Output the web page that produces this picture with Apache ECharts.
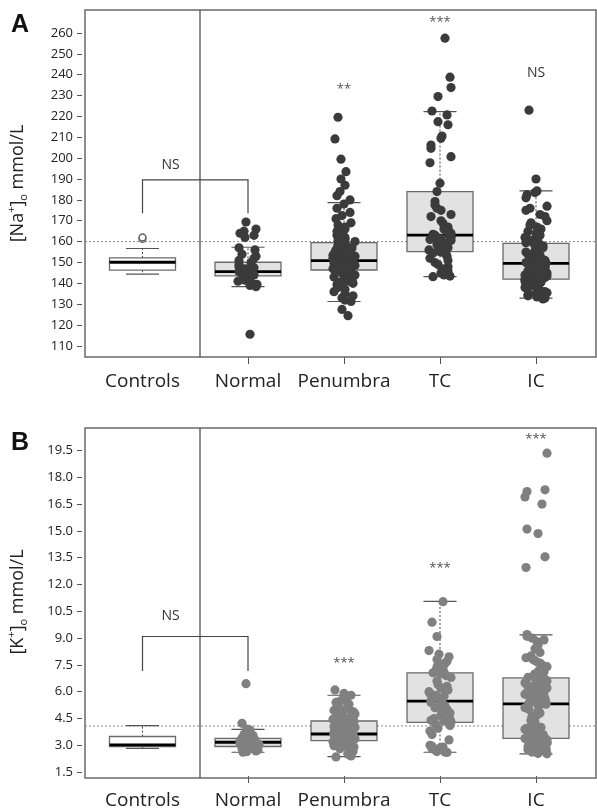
<!DOCTYPE html>
<html><head><meta charset="utf-8">
<script src="https://cdn.jsdelivr.net/npm/echarts@6/dist/echarts.min.js"></script>
<style>html,body{margin:0;padding:0;background:#fff}#c{width:597px;height:810px}</style>
</head><body><div id="c"></div>
<script>
// ---------- DATA ----------
const leftCategories = ['Controls'];
const rightCategories = ['Normal', 'Penumbra', 'TC', 'IC'];

const naTicks = [110,120,130,140,150,160,170,180,190,200,210,220,230,240,250,260];
const kTicks = [1.5,3.0,4.5,6.0,7.5,9.0,10.5,12.0,13.5,15.0,16.5,18.0,19.5];

// box stats: [low whisker, Q1, median, Q3, high whisker]
const naControlsBox = [144.4, 146.3, 150.1, 152.2, 156.7];
const naControlsOutliers = [161.3, 162.0];
const naBoxes = [
  [138.4, 143.6, 145.6, 150.1, 157.3],
  [131.3, 146.4, 150.9, 159.5, 178.7],
  [143.2, 155.2, 163.1, 184.0, 222.3],
  [132.9, 142.0, 149.6, 159.2, 184.3]
];
const kControlsBox = [2.83, 2.93, 3.02, 3.49, 4.10];
const kBoxes = [
  [2.61, 2.93, 3.17, 3.39, 3.89],
  [2.37, 3.26, 3.63, 4.36, 5.80],
  [2.61, 4.28, 5.47, 7.05, 11.06],
  [2.52, 3.39, 5.32, 6.77, 9.18]
];

const naNormal = [169.4,166,165,164,163,162,157,156,154,153,152,151,150,149,148,147.5,147,146.5,146,145.5,145,144.5,144,144,143.5,143,142.5,142,141.5,141,140.5,140,139.5,139,138.4,115.6];
const naPenumbra = [219.6,209.2,199.5,193.5,190,187,184,182,180,178,176,174,172.5,171,169,168,167,166,165,164,163,162,161,160.5,160,
  159.5,159,158.5,158,157.5,157,156.5,156,155.5,155,154.5,154,153.5,153,152.5,152.5,152,152,151.5,151.5,151.5,151,151,151,151,
  150.5,150.5,150.5,150,150,150,149.5,149.5,149,149,148.5,148.5,148,148,148,147.5,147.5,147,147,147,146.8,146.6,146.5,146.5,146.4,
  146,145.5,145,144.5,144,143.5,143,142.5,142,141.5,141,140.5,140,139.5,139,138,137,136,135,134,133,132,131.3,127.5,124.5];
const naTC = [257.5,238.8,233.8,229.5,222.6,220.7,217.5,216,210.6,209.5,206.3,204.7,200.7,197.8,188,184,179.2,177.6,176,175,173,172,170,168.8,167,166,165.5,165,164.5,164,163.5,
  163,163,162.5,162,161.5,161,160.5,160,159.5,159,158.5,158,157,156,155.5,155,154.5,154,153,152,151,150,149,148,147,146,145,144,143.5,143.2];
const naIC = [223,190,184.3,183.5,182.5,181,177,176,175,173,172,170,169,168,167,166,165,164,163,162,161.5,161,160.5,160,159.5,
  159,158.5,158,157.5,157,156.5,156,155.5,155,154.5,154,153.5,153,152.5,152,152,151.5,151,151,150.5,150.5,150,150,149.8,149.7,
  149.5,149,148.5,148,147.5,147,146.5,146,146,145.5,145,145,144.5,144.5,144,144,143.5,143.5,143,143,142.8,142.5,142.5,142.2,142,
  141.5,141,141,140.5,140,140,139.5,139,139,138.5,138,138,137.5,137,136.5,136,136,135.5,135,135,134.5,134,133.5,133,132.5];

const kNormal = [6.45,4.23,3.9,3.85,3.75,3.7,3.6,3.55,3.5,3.45,3.4,3.38,3.35,3.3,3.25,3.2,3.18,3.15,3.1,3.08,3.05,3.0,2.98,2.95,2.93,2.9,2.88,2.85,2.82,2.8,2.75,2.7,2.68,2.65,2.61];
const kPenumbra = [6.1,5.9,5.8,5.6,5.5,5.4,5.3,5.2,5.1,5.0,4.95,4.9,4.85,4.8,4.75,4.7,4.65,4.6,4.55,4.5,4.48,4.45,4.42,4.4,4.37,
  4.35,4.3,4.25,4.2,4.15,4.1,4.05,4.0,3.98,3.95,3.92,3.9,3.87,3.85,3.82,3.8,3.78,3.75,3.73,3.71,3.7,3.68,3.66,3.65,3.64,
  3.62,3.61,3.6,3.58,3.57,3.55,3.54,3.52,3.5,3.49,3.48,3.46,3.45,3.43,3.42,3.4,3.39,3.37,3.35,3.34,3.32,3.31,3.3,3.28,3.27,
  3.25,3.22,3.2,3.17,3.15,3.12,3.1,3.07,3.05,3.02,3.0,2.97,2.95,2.92,2.9,2.87,2.85,2.8,2.75,2.7,2.65,2.6,2.5,2.4,2.35];
const kTC = [11.04,9.89,9.09,8.3,8.1,7.95,7.8,7.7,7.6,7.5,7.4,7.3,7.2,7.15,7.1,7.06,
  7.0,6.9,6.8,6.6,6.4,6.3,6.2,6.1,6.0,5.9,5.8,5.75,5.7,5.6,5.55,5.5,
  5.45,5.4,5.3,5.25,5.2,5.1,5.0,4.9,4.8,4.7,4.6,4.5,4.45,4.4,4.35,4.3,
  4.2,4.1,3.95,3.8,3.6,3.3,3.0,2.95,2.9,2.85,2.8,2.75,2.7,2.65,2.62,2.6];
const kIC = [19.35,17.3,17.2,16.9,16.5,15.1,14.85,13.55,12.95,9.2,9.1,9.0,8.9,8.8,8.6,8.4,8.2,8.0,7.9,7.8,7.7,7.6,7.5,7.4,7.3,7.2,7.1,7.0,6.9,6.8,
  6.75,6.7,6.65,6.6,6.55,6.5,6.45,6.4,6.35,6.3,6.25,6.2,6.15,6.1,6.05,6.0,5.95,5.9,5.85,5.8,5.75,5.7,5.65,5.6,5.55,5.5,5.45,5.4,5.37,5.33,
  5.3,5.2,5.1,5.0,4.9,4.8,4.7,4.6,4.5,4.4,4.3,4.2,4.1,4.05,4.0,3.95,3.9,3.85,3.8,3.75,3.7,3.65,3.6,3.55,3.5,3.47,3.45,3.43,3.41,3.4,
  3.38,3.35,3.3,3.25,3.2,3.18,3.15,3.12,3.1,3.05,3.0,2.97,2.95,2.92,2.9,2.87,2.85,2.82,2.8,2.77,2.75,2.72,2.7,2.67,2.65,2.62,2.6,2.57,2.55,2.52];

// significance labels above right-panel groups
const naSigText = ['', '**', '***', 'NS'];
const naSigValue = [null, 233, 265, 241];
const kSigText = ['', '***', '***', '***'];
const kSigValue = [null, 7.6, 12.9, 20.1];
// Controls vs Normal bracket: [leg bottom, bar level, label level]
const naBracket = [173.6, 189.6, 196.6];
const kBracket = [7.16, 9.09, 10.25];
const naRefLine = 160;
const kRefLine = 4.08;

// ---------- CHART ----------
const chart = echarts.init(document.getElementById('c'), null, {renderer: 'canvas'});
const FONT = 'Open Sans';
const PA = {top: 10, h: 347};
const PB = {top: 428, h: 350};
const LEFT = 85, DIV = 200, RIGHT_W = 384, FRAME_R = 596;
const NA_MIN = 104.7, NA_MAX = 271, K_MIN = 1.28, K_MAX = 20.76;

// deterministic horizontal jitter (display offset only, in px)
function jit(i, s) {
  let h = Math.imul((i + 1) * 2654435761 + s * 97, 0x45d9f3b) >>> 0;
  h = Math.imul(h ^ (h >>> 16), 0x45d9f3b) >>> 0;
  h = (h ^ (h >>> 16)) >>> 0;
  return (h % 23) - 11;
}

function boxItem(fillColor) {
  return function (params, api) {
    const cat = api.value(0);
    const x = api.coord([cat, api.value(3)])[0];
    const yl = api.coord([cat, api.value(1)])[1];
    const y1 = api.coord([cat, api.value(2)])[1];
    const ym = api.coord([cat, api.value(3)])[1];
    const y3 = api.coord([cat, api.value(4)])[1];
    const yh = api.coord([cat, api.value(5)])[1];
    const bw = 66, cw = 33;
    const dash = {stroke: '#444', lineWidth: 1, lineDash: [2, 2]};
    const solid = {stroke: '#555', lineWidth: 1.2};
    return {type: 'group', children: [
      {type: 'line', shape: {x1: x, y1: y3, x2: x, y2: yh}, style: dash},
      {type: 'line', shape: {x1: x, y1: y1, x2: x, y2: yl}, style: dash},
      {type: 'line', shape: {x1: x - cw / 2, y1: yh, x2: x + cw / 2, y2: yh}, style: solid},
      {type: 'line', shape: {x1: x - cw / 2, y1: yl, x2: x + cw / 2, y2: yl}, style: solid},
      {type: 'rect', shape: {x: x - bw / 2, y: y3, width: bw, height: y1 - y3}, style: {fill: fillColor, stroke: '#6a6a6a', lineWidth: 1.3}},
      {type: 'line', shape: {x1: x - bw / 2, y1: ym, x2: x + bw / 2, y2: ym}, style: {stroke: '#000', lineWidth: 2.8}}
    ]};
  };
}
function pointItem(color, seed) {
  return function (params, api) {
    const c = api.coord([api.value(0), api.value(1)]);
    return {type: 'circle', shape: {cx: c[0] + jit(params.dataIndex, seed), cy: c[1], r: 4.6}, style: {fill: color}};
  };
}
function openItem(params, api) {
  const c = api.coord([api.value(0), api.value(1)]);
  return {type: 'circle', shape: {cx: c[0], cy: c[1], r: 3.4}, style: {fill: '#fff', stroke: '#666', lineWidth: 1.5}};
}
function sigItem(texts) {
  return function (params, api) {
    const c = api.coord([api.value(0), api.value(1)]);
    const t = texts[api.value(0)];
    const star = t.indexOf('*') >= 0;
    return {type: 'text', x: c[0], y: c[1], style: {text: t, align: 'center', verticalAlign: 'middle',
      fontFamily: FONT, fontSize: star ? 13 : 14, fill: star ? '#555' : '#333'}};
  };
}

function pts(arr, cat) { return arr.map(v => [cat, v]); }
function boxes(arr) { return arr.map((b, i) => [i].concat(b)); }
function sigs(vals) { const o = []; vals.forEach((v, i) => { if (v !== null) o.push([i, v]); }); return o; }

const grids = [
  {left: LEFT, top: PA.top, width: DIV - LEFT, height: PA.h},
  {left: DIV, top: PA.top, width: RIGHT_W, height: PA.h},
  {left: LEFT, top: PB.top, width: DIV - LEFT, height: PB.h},
  {left: DIV, top: PB.top, width: RIGHT_W, height: PB.h}
];

function xAx(gi, cats, tick) {
  return {type: 'category', gridIndex: gi, data: cats, boundaryGap: true,
    axisLine: {show: false},
    axisTick: {show: tick, alignWithLabel: true, length: 7, lineStyle: {color: '#555'}},
    axisLabel: {interval: 0, fontFamily: FONT, fontSize: 19, color: '#222', margin: 15}};
}
const nameRich = {
  sup: {fontFamily: FONT, fontSize: 11, verticalAlign: 'top', lineHeight: 23, color: '#222'},
  sub: {fontFamily: FONT, fontSize: 11, verticalAlign: 'bottom', lineHeight: 23, color: '#222'}
};
function yAx(gi, min, max, ticks, show, name, dec) {
  return {type: 'value', gridIndex: gi, min: min, max: max, show: show,
    splitLine: {show: false}, axisLine: {show: false}, offset: 3,
    axisTick: {show: true, length: 5, customValues: ticks, lineStyle: {color: '#555'}},
    axisLabel: {customValues: ticks, fontFamily: FONT, fontSize: 13, color: '#222', margin: 9,
      formatter: v => dec ? Number(v).toFixed(1) : String(v)},
    name: name, nameLocation: 'middle', nameGap: 53,
    nameTextStyle: {fontFamily: FONT, fontSize: 18, color: '#222', lineHeight: 23, rich: nameRich}};
}

const option = {
  animation: false,
  backgroundColor: '#fff',
  grid: grids,
  xAxis: [xAx(0, leftCategories, false), xAx(1, rightCategories, true), xAx(2, leftCategories, false), xAx(3, rightCategories, true)],
  yAxis: [
    yAx(0, NA_MIN, NA_MAX, naTicks, true, '[Na{sup|+}]{sub|o} mmol/L', false),
    yAx(1, NA_MIN, NA_MAX, naTicks, false, '', false),
    yAx(2, K_MIN, K_MAX, kTicks, true, '[K{sup|+}]{sub|o} mmol/L', true),
    yAx(3, K_MIN, K_MAX, kTicks, false, '', true)
  ],
  series: [
    {type: 'custom', xAxisIndex: 0, yAxisIndex: 0, renderItem: boxItem('#ffffff'), data: boxes([naControlsBox]), encode: {x: 0, y: [1,2,3,4,5]}, z: 2},
    {type: 'custom', xAxisIndex: 0, yAxisIndex: 0, renderItem: openItem, data: pts(naControlsOutliers, 0), z: 3},
    {type: 'custom', xAxisIndex: 1, yAxisIndex: 1, renderItem: boxItem('#e2e2e2'), data: boxes(naBoxes), encode: {x: 0, y: [1,2,3,4,5]}, z: 2},
    {type: 'custom', xAxisIndex: 1, yAxisIndex: 1, renderItem: pointItem('#3b3b3b', 1), data: pts(naNormal, 0), z: 3},
    {type: 'custom', xAxisIndex: 1, yAxisIndex: 1, renderItem: pointItem('#3b3b3b', 2), data: pts(naPenumbra, 1), z: 3},
    {type: 'custom', xAxisIndex: 1, yAxisIndex: 1, renderItem: pointItem('#3b3b3b', 3), data: pts(naTC, 2), z: 3},
    {type: 'custom', xAxisIndex: 1, yAxisIndex: 1, renderItem: pointItem('#3b3b3b', 4), data: pts(naIC, 3), z: 3},
    {type: 'custom', xAxisIndex: 1, yAxisIndex: 1, renderItem: sigItem(naSigText), data: sigs(naSigValue), z: 4},

    {type: 'custom', xAxisIndex: 2, yAxisIndex: 2, renderItem: boxItem('#ffffff'), data: boxes([kControlsBox]), encode: {x: 0, y: [1,2,3,4,5]}, z: 2},
    {type: 'custom', xAxisIndex: 3, yAxisIndex: 3, renderItem: boxItem('#e2e2e2'), data: boxes(kBoxes), encode: {x: 0, y: [1,2,3,4,5]}, z: 2},
    {type: 'custom', xAxisIndex: 3, yAxisIndex: 3, renderItem: pointItem('#808080', 5), data: pts(kNormal, 0), z: 3},
    {type: 'custom', xAxisIndex: 3, yAxisIndex: 3, renderItem: pointItem('#808080', 6), data: pts(kPenumbra, 1), z: 3},
    {type: 'custom', xAxisIndex: 3, yAxisIndex: 3, renderItem: pointItem('#808080', 7), data: pts(kTC, 2), z: 3},
    {type: 'custom', xAxisIndex: 3, yAxisIndex: 3, renderItem: pointItem('#808080', 8), data: pts(kIC, 3), z: 3},
    {type: 'custom', xAxisIndex: 3, yAxisIndex: 3, renderItem: sigItem(kSigText), data: sigs(kSigValue), z: 4}
  ]
};
chart.setOption(option);

// overlay: frames, divider, reference lines, brackets, panel letters
function panelGraphics(top, h, gl, gr, refVal, br, letter) {
  const out = [];
  const yRef = chart.convertToPixel({yAxisIndex: gl.y}, refVal);
  out.push({type: 'line', shape: {x1: LEFT, y1: yRef, x2: FRAME_R, y2: yRef}, style: {stroke: '#888', lineWidth: 1, lineDash: [2, 2]}, z: 1});
  out.push({type: 'rect', shape: {x: LEFT, y: top, width: FRAME_R - LEFT, height: h}, style: {fill: null, stroke: '#6a6a6a', lineWidth: 1.5}, z: 10});
  out.push({type: 'line', shape: {x1: DIV, y1: top, x2: DIV, y2: top + h}, style: {stroke: '#444', lineWidth: 1.2}, z: 10});
  const pL0 = chart.convertToPixel({xAxisIndex: gl.x, yAxisIndex: gl.y}, [0, br[0]]);
  const pL1 = chart.convertToPixel({xAxisIndex: gl.x, yAxisIndex: gl.y}, [0, br[1]]);
  const pR0 = chart.convertToPixel({xAxisIndex: gr.x, yAxisIndex: gr.y}, [0, br[0]]);
  const pR1 = chart.convertToPixel({xAxisIndex: gr.x, yAxisIndex: gr.y}, [0, br[1]]);
  out.push({type: 'polyline', shape: {points: [pL0, pL1, pR1, pR0]}, style: {stroke: '#444', lineWidth: 1.2, fill: null}, z: 10});
  const yLab = chart.convertToPixel({yAxisIndex: gl.y}, br[2]);
  out.push({type: 'text', x: pL1[0] + 28, y: yLab, style: {text: 'NS', fontFamily: FONT, fontSize: 14, fill: '#333', align: 'center', verticalAlign: 'middle'}, z: 10});
  out.push({type: 'text', x: 11, y: top + 3, style: {text: letter, fontFamily: 'Liberation Sans', fontWeight: 'bold', fontSize: 25, fill: '#111'}, z: 10});
  return out;
}
chart.setOption({graphic: [].concat(
  panelGraphics(PA.top, PA.h, {x: 0, y: 0}, {x: 1, y: 1}, naRefLine, naBracket, 'A'),
  panelGraphics(PB.top, PB.h, {x: 2, y: 2}, {x: 3, y: 3}, kRefLine, kBracket, 'B')
)});
</script></body></html>
